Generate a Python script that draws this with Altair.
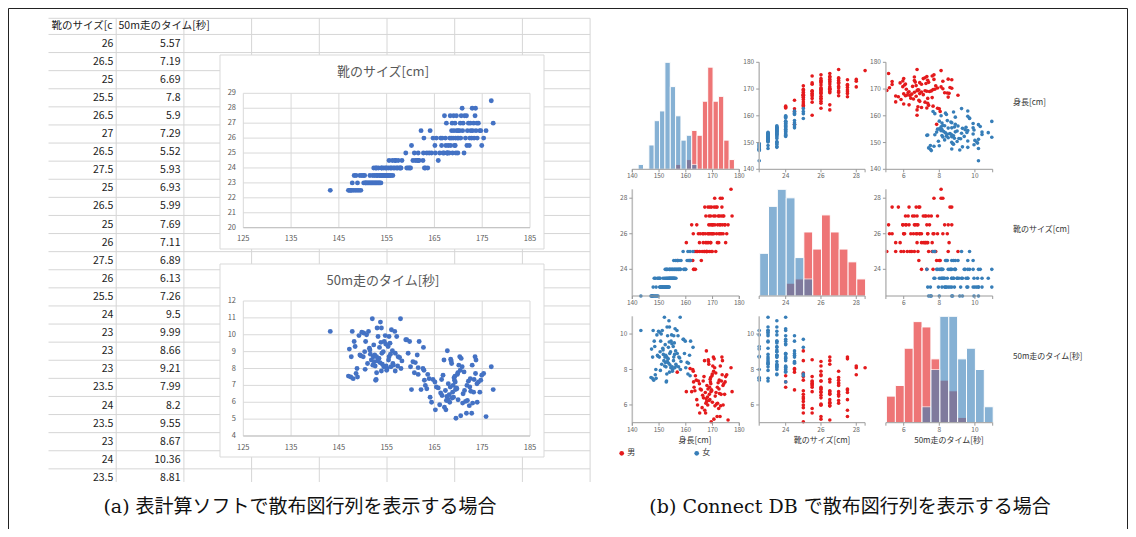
import altair as alt
import pandas as pd

# ---------------------------------------------------------------- data
MALE_HEIGHT = [156.8, 160.2, 161.6, 162.2, 162.6, 162.8, 162.9, 163.1, 163.4, 163.6,
               163.9, 164.1, 164.4, 164.7, 165.1, 165.2, 165.4, 165.8, 166.1, 166.3,
               166.5, 166.8, 167.0, 167.1, 167.3, 167.4, 167.5, 167.6, 167.7, 167.8,
               167.9, 166.6, 168.1, 168.3, 168.4, 168.5, 168.6, 168.7, 168.8, 168.9,
               169.0, 169.1, 169.2, 169.3, 169.4, 169.5, 169.6, 169.7, 169.8, 169.9,
               169.95, 168.2, 169.35, 170.1, 170.3, 170.5, 170.6, 170.8, 170.9, 171.0,
               171.2, 171.3, 171.5, 171.7, 171.8, 171.9, 170.4, 172.1, 172.3, 172.4,
               172.5, 172.6, 172.8, 172.9, 173.0, 173.2, 173.3, 173.5, 173.6, 173.7,
               173.9, 173.95, 174.2, 174.5, 174.7, 174.9, 175.3, 175.8, 176.9, 177.3]
MALE_SHOE = [24.5, 25.5, 24.5, 26.5, 24.5, 26, 24, 24, 25, 24,
             25, 26.5, 25, 26, 25.5, 25, 26, 24.5, 25, 26,
             25.5, 25, 25, 27.5, 26, 25.5, 27, 25, 25, 25,
             25.5, 26, 25, 27.5, 25.5, 26, 26.5, 27, 25, 26,
             27.5, 26.5, 25.5, 27, 26, 25, 27.5, 26.5, 26, 25,
             26.5, 26, 25.5, 26, 26.5, 26, 27.5, 28, 26.5, 27,
             25, 27.5, 26, 27.5, 25.5, 26.5, 27, 27, 25.5, 26,
             27, 26.5, 26, 28, 26.5, 27, 26, 27.5, 28, 26.5,
             27, 26, 27, 26.5, 26.5, 25.5, 26, 26.5, 28.5, 27]
MALE_TIME = [7.85, 6.75, 8.05, 6.75, 8.0, 7.9, 7.3, 7.0, 6.8, 7.65,
             7.4, 6.3, 6.0, 7.35, 7.2, 5.55, 6.9, 6.85, 5.85, 6.55,
             7.35, 7.6, 8.5, 5.7, 6.7, 5.55, 6.1, 6.35, 9.05, 6.2,
             7.1, 6.4, 6.45, 6.9, 8.55, 8.45, 8.3, 6.25, 6.6, 7.0,
             6.3, 7.45, 7.3, 7.55, 6.75, 5.05, 6.85, 6.8, 7.65, 7.75,
             6.15, 6.0, 7.2, 8.2, 8.7, 5.2, 8.6, 8.1, 5.95, 6.5,
             7.8, 6.7, 6.05, 5.35, 7.0, 6.1, 7.9, 7.25, 5.8, 6.9,
             7.4, 6.65, 5.35, 8.2, 5.95, 6.6, 7.35, 8.7, 7.7, 8.5,
             7.1, 6.0, 7.2, 6.6, 7.3, 7.6, 7.7, 5.15, 8.1, 6.75]

FEMALE_HEIGHT = [143.2, 147.2, 147.6, 148.0, 148.4, 148.8, 149.2, 149.6, 147.0, 147.5,
                 147.8, 150.2, 150.5, 150.8, 151.0, 151.2, 151.4, 151.6, 151.8, 152.0,
                 152.2, 152.4, 152.6, 152.8, 153.0, 153.2, 153.4, 153.6, 153.8, 150.6,
                 148.9,
                 148.2, 148.6, 149.4, 150.4, 151.5, 152.1, 152.5, 152.9, 153.1, 153.5,
                 153.7, 153.9, 154.1, 154.3, 154.5, 154.7, 154.9, 155.1, 155.3, 155.5,
                 155.7, 155.9, 150.1, 156.3, 149.8,
                 152.3, 152.7, 153.3, 154.0, 154.4, 154.8, 155.0, 155.4, 155.8, 156.0,
                 156.4, 156.7, 152.9, 157.1, 157.3, 153.9, 157.7, 158.0, 159.2, 159.5,
                 159.8, 160.0, 157.9,
                 155.5, 156.2, 156.8, 157.4, 158.2, 160.5, 161.0, 161.4, 161.8,
                 159.0, 160.8, 161.6, 162.7]
FEMALE_SHOE = [22.5, 22.5, 22.5, 22.5, 22.5, 22.5, 22.5, 22.5, 22.5, 22.5,
               23, 23, 23, 23, 23, 23, 23, 23, 23, 23,
               23, 23, 23, 23, 23, 23, 23, 23, 23, 23,
               23,
               23.5, 23.5, 23.5, 23.5, 23.5, 23.5, 23.5, 23.5, 23.5, 23.5,
               23.5, 23.5, 23.5, 23.5, 23.5, 23.5, 23.5, 23.5, 23.5, 23.5,
               23.5, 23.5, 23.5, 23.5, 23.5,
               24, 24, 24, 24, 24, 24, 24, 24, 24, 24,
               24, 24, 24, 24, 24, 24, 24, 24, 24, 24,
               24, 24, 24,
               24.5, 24.5, 24.5, 24.5, 24.5, 24.5, 24.5, 24.5, 24.5,
               25, 25, 25, 25]
FEMALE_TIME = [10.2, 9.15, 8.7, 7.4, 9.3, 8.0, 9.95, 8.75, 7.55, 7.5,
               10.2, 10.1, 7.95, 10.0, 8.3, 10.2, 9.2, 8.85, 8.5, 10.95,
               8.7, 8.4, 8.15, 7.35, 10.4, 9.9, 8.6, 8.35, 9.55, 9.6,
               7.5,
               9.6, 7.7, 8.8, 9.0, 9.1, 8.2, 8.8, 7.75, 8.45, 9.25,
               10.75, 10.4, 8.25, 9.0, 9.6, 9.95, 8.15, 8.0, 9.3, 8.7,
               9.5, 8.1, 8.7, 8.3, 10.15,
               9.4, 7.3, 8.6, 8.9, 8.1, 9.45, 7.9, 8.5, 8.85, 10.3,
               8.2, 10.2, 8.7, 9.9, 8.15, 7.85, 8.65, 8.0, 9.7, 8.9,
               9.6, 8.1, 10.95,
               9.9, 9.05, 8.9, 8.7, 8.45, 8.4, 8.35, 8.8, 9.6,
               9.7, 7.75, 7.65, 9.25]

TABLE_HEADERS = ["靴のサイズ[c", "50m走のタイム[秒]"]
TABLE_SHOE = ["26", "26.5", "25", "25.5", "26.5", "27", "26.5", "27.5", "25", "26.5",
              "25", "26", "27.5", "26", "25.5", "24", "23", "23", "23", "23.5",
              "24", "23.5", "23", "24", "23.5"]
TABLE_TIME = ["5.57", "7.19", "6.69", "7.8", "5.9", "7.29", "5.52", "5.93", "6.93", "5.99",
              "7.69", "7.11", "6.89", "6.13", "7.26", "9.5", "9.99", "8.66", "9.21", "7.99",
              "8.2", "9.55", "8.67", "10.36", "8.81"]

EXCEL_TITLES = ["靴のサイズ[cm]", "50m走のタイム[秒]"]
EXCEL_X_TICKS = [125, 135, 145, 155, 165, 175, 185]
EXCEL_SHOE_TICKS = [20, 21, 22, 23, 24, 25, 26, 27, 28, 29]
EXCEL_TIME_TICKS = [4, 5, 6, 7, 8, 9, 10, 11, 12]

MATRIX_LABELS = {"h": "身長[cm]", "s": "靴のサイズ[cm]", "t": "50m走のタイム[秒]"}
HEIGHT_TICKS = [140, 150, 160, 170, 180]
SHOE_TICKS = [24, 26, 28]
TIME_TICKS = [6, 8, 10]
LEGEND_LABELS = ["男", "女"]
CAPTIONS = ["(a) 表計算ソフトで散布図行列を表示する場合",
            "(b) Connect DB で散布図行列を表示する場合"]

# ---------------------------------------------------------------- styles / layout
RED = "#e41a1c"
BLUE = "#377eb8"
EXCEL_BLUE = "#4472C4"
SANS = "Noto Sans CJK JP"
SERIF = "DejaVu Serif, Noto Sans CJK JP"
OFF = 8  # page margin


def P(v):
    return v - OFF


def fmt(v):
    return f"{v:g}"


ONE = alt.Data(values=[{"k": 0}])

male = pd.DataFrame({"h": MALE_HEIGHT, "s": MALE_SHOE, "t": MALE_TIME})
female = pd.DataFrame({"h": FEMALE_HEIGHT, "s": FEMALE_SHOE, "t": FEMALE_TIME})
everyone = pd.concat([male, female], ignore_index=True)

layers = []


def vrule(x, y0, y1, color, width=1.0):
    return alt.Chart(ONE).mark_rule(color=color, strokeWidth=width).encode(
        x=alt.value(P(x)), y=alt.value(P(y0)), y2=alt.value(P(y1)))


def hrule(y, x0, x1, color, width=1.0):
    return alt.Chart(ONE).mark_rule(color=color, strokeWidth=width).encode(
        y=alt.value(P(y)), x=alt.value(P(x0)), x2=alt.value(P(x1)))


def label(text, x, y, size, color, align="center", font=SANS):
    return alt.Chart(ONE).mark_text(text=text, align=align, baseline="middle",
                                    fontSize=size, color=color, font=font).encode(
        x=alt.value(P(x)), y=alt.value(P(y)))


def lin(domain, r0, r1):
    return alt.Scale(domain=domain, range=[P(r0), P(r1)], zero=False, nice=False)


# ---------------------------------------------------------------- spreadsheet
SHEET_GRID = "#d6d6d6"
col_scale = lin([0, 8], 48.5, 590.1)
row_scale = lin([0, 23], 43.5, 43.5 + 18.1 * 23)
col_lines = pd.DataFrame({"c": list(range(1, 9))})
row_lines = pd.DataFrame({"r": [i - 0.5 for i in range(26)]})
layers.append(alt.Chart(col_lines).mark_rule(color=SHEET_GRID).encode(
    x=alt.X("c:Q", scale=col_scale, axis=None), y=alt.value(P(18.3)), y2=alt.value(P(484))))
layers.append(alt.Chart(row_lines).mark_rule(color=SHEET_GRID).encode(
    y=alt.Y("r:Q", scale=row_scale, axis=None), x=alt.value(P(48.5)), x2=alt.value(P(590.1))))
layers.append(hrule(18.3, 48.5, 590.1, SHEET_GRID))
table = pd.DataFrame({"i": list(range(len(TABLE_SHOE))), "a": TABLE_SHOE, "b": TABLE_TIME})
layers.append(alt.Chart(table).mark_text(align="right", fontSize=10.5, color="#222", font=SANS).encode(
    y=alt.Y("i:Q", scale=row_scale, axis=None), x=alt.value(P(113.3)), text="a:N"))
layers.append(alt.Chart(table).mark_text(align="right", fontSize=10.5, color="#222", font=SANS).encode(
    y=alt.Y("i:Q", scale=row_scale, axis=None), x=alt.value(P(180.5)), text="b:N"))
layers.append(label(TABLE_HEADERS[0], 51.5, 26.3, 10.5, "#222", align="left"))
layers.append(label(TABLE_HEADERS[1], 118.5, 26.3, 10.5, "#222", align="left"))


# ---------------------------------------------------------------- excel charts
def excel_chart(ycol, title, yticks, box, plot, xlab_y, ylab_x, title_y):
    bx0, by0, bx1, by1 = box
    px0, px1, pyt, pyb = plot
    xs = lin([EXCEL_X_TICKS[0], EXCEL_X_TICKS[-1]], px0, px1)
    ys = lin([yticks[0], yticks[-1]], pyb, pyt)
    xt = pd.DataFrame({"v": EXCEL_X_TICKS, "lab": [fmt(v) for v in EXCEL_X_TICKS]})
    yt = pd.DataFrame({"v": yticks, "lab": [fmt(v) for v in yticks]})
    out = [
        alt.Chart(ONE).mark_rect(fill="white", stroke="#d9d9d9", strokeWidth=1).encode(
            x=alt.value(P(bx0)), x2=alt.value(P(bx1)), y=alt.value(P(by0)), y2=alt.value(P(by1))),
        alt.Chart(xt).mark_rule(color="#d9d9d9").encode(
            x=alt.X("v:Q", scale=xs, axis=None), y=alt.value(P(pyt)), y2=alt.value(P(pyb))),
        alt.Chart(yt).mark_rule(color="#d9d9d9").encode(
            y=alt.Y("v:Q", scale=ys, axis=None), x=alt.value(P(px0)), x2=alt.value(P(px1))),
        hrule(pyb, px0, px1, "#bfbfbf"),
        alt.Chart(everyone).mark_circle(size=24, color=EXCEL_BLUE, opacity=1).encode(
            x=alt.X("h:Q", scale=xs, axis=None), y=alt.Y(f"{ycol}:Q", scale=ys, axis=None)),
        alt.Chart(xt).mark_text(fontSize=7.5, color="#595959", font=SANS).encode(
            x=alt.X("v:Q", scale=xs, axis=None), y=alt.value(P(xlab_y)), text="lab:N"),
        alt.Chart(yt).mark_text(fontSize=7.5, color="#595959", font=SANS, align="right").encode(
            y=alt.Y("v:Q", scale=ys, axis=None), x=alt.value(P(ylab_x)), text="lab:N"),
        label(title, (bx0 + bx1) / 2 + 1, title_y, 13, "#595959"),
    ]
    return out


layers += excel_chart("s", EXCEL_TITLES[0], EXCEL_SHOE_TICKS,
                      (220, 55, 544, 249), (243.3, 530, 93.3, 227.7), 239.3, 236, 72.3)
layers += excel_chart("t", EXCEL_TITLES[1], EXCEL_TIME_TICKS,
                      (220, 264, 544, 457), (243.3, 530, 301, 436), 447.7, 236, 280.5)

# cut-off bottom of the screenshot
layers.append(alt.Chart(ONE).mark_rect(fill="white").encode(
    x=alt.value(P(40)), x2=alt.value(P(600)), y=alt.value(P(482)), y2=alt.value(P(537))))

# ---------------------------------------------------------------- scatter matrix
VARS = ["h", "s", "t"]
MX = {"h": (632.3, 739.3), "s": (759.2, 865.1), "t": (885.9, 992.7)}
MY = {"h": (169.3, 62.3), "s": (296.0, 189.3), "t": (422.7, 316.3)}
DOM = {"h": [140, 180], "s": [22.5, 28.5], "t": [5, 11]}
TICKS = {"h": HEIGHT_TICKS, "s": SHOE_TICKS, "t": TIME_TICKS}
HMAX = {"h": 22, "s": 25, "t": 20}
STEP = {"h": 2, "s": 0.5, "t": 0.5}
AXIS_C = "#9a9a9a"
TICK_LAB_C = "#666666"

for r in VARS:
    for c in VARS:
        xs = lin(DOM[c], *MX[c])
        ys = lin(DOM[r], *MY[r])
        if r == c:
            hs = lin([0, HMAX[r]], *MY[r])
            for df, colr in ((male, RED), (female, BLUE)):
                layers.append(alt.Chart(df).mark_bar(color=colr, opacity=0.6, stroke="white",
                                                     strokeWidth=1, binSpacing=0).encode(
                    x=alt.X(f"{c}:Q", bin=alt.Bin(step=STEP[c], extent=DOM[c], nice=False),
                            scale=xs, axis=None),
                    y=alt.Y("count():Q", scale=hs, axis=None)))
        else:
            for df, colr in ((male, RED), (female, BLUE)):
                layers.append(alt.Chart(df).mark_circle(size=13, color=colr, opacity=1).encode(
                    x=alt.X(f"{c}:Q", scale=xs, axis=None),
                    y=alt.Y(f"{r}:Q", scale=ys, axis=None)))
            # y axis
            yt = pd.DataFrame({"v": TICKS[r], "lab": [fmt(v) for v in TICKS[r]]})
            layers.append(vrule(MX[c][0], MY[r][0], MY[r][1], "#bdbdbd", 1.6))
            layers.append(alt.Chart(yt).mark_rule(color=AXIS_C).encode(
                y=alt.Y("v:Q", scale=ys, axis=None), x=alt.value(P(MX[c][0] - 3)),
                x2=alt.value(P(MX[c][0]))))
            layers.append(alt.Chart(yt).mark_text(fontSize=6.5, color=TICK_LAB_C, font=SANS,
                                                  align="right").encode(
                y=alt.Y("v:Q", scale=ys, axis=None), x=alt.value(P(MX[c][0] - 5)), text="lab:N"))
        # x axis
        xt = pd.DataFrame({"v": TICKS[c], "lab": [fmt(v) for v in TICKS[c]]})
        yb = MY[r][0]
        layers.append(hrule(yb, MX[c][0], MX[c][1], AXIS_C))
        layers.append(vrule(MX[c][0], yb, yb + 3, AXIS_C))
        layers.append(vrule(MX[c][1], yb, yb + 3, AXIS_C))
        layers.append(alt.Chart(xt).mark_rule(color=AXIS_C).encode(
            x=alt.X("v:Q", scale=xs, axis=None), y=alt.value(P(yb)), y2=alt.value(P(yb + 3))))
        layers.append(alt.Chart(xt).mark_text(fontSize=6.5, color=TICK_LAB_C, font=SANS).encode(
            x=alt.X("v:Q", scale=xs, axis=None), y=alt.value(P(yb + 7)), text="lab:N"))

# axis titles (bottom) and row labels (right)
for c, cx in zip(VARS, (695, 822, 949)):
    layers.append(label(MATRIX_LABELS[c], cx, 440.5, 8, "#333"))
for r, ry in zip(VARS, (103.3, 230, 357.3)):
    layers.append(label(MATRIX_LABELS[r], 1013, ry, 8, "#333", align="left"))

# legend
for (lx, colr), txt in zip(((621.7, RED), (696.7, BLUE)), LEGEND_LABELS):
    layers.append(alt.Chart(ONE).mark_circle(size=22, color=colr, opacity=1).encode(
        x=alt.value(P(lx)), y=alt.value(P(453.3))))
    layers.append(label(txt, lx + 5.5, 453.3, 8, "#333", align="left"))

# captions
layers.append(label(CAPTIONS[0], 300, 507, 19, "#111", font=SERIF))
layers.append(label(CAPTIONS[1], 850, 507, 19, "#111", font=SERIF))

# frame
layers.append(vrule(8.5, 8.5, 537, "#222"))
layers.append(vrule(1127.5, 8.5, 537, "#222"))
layers.append(hrule(8.5, 8.5, 1127.5, "#222"))

chart = alt.layer(*layers).resolve_scale(x="independent", y="independent").properties(
    width=1120, height=521, padding=0, autosize=alt.AutoSizeParams(type="none")
).configure_view(stroke=None)

chart.save("out.html", embed_options={"renderer": "svg", "actions": False})
